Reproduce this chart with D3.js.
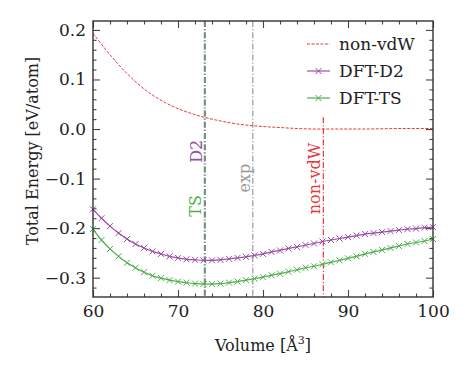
<!DOCTYPE html>
<html>
<head>
<meta charset="utf-8">
<script src="https://cdn.jsdelivr.net/npm/d3@7"></script>
<style>
  body { margin: 0; background: #fff; }
  .axis line { stroke: #444; stroke-width: 1.1; }
  .axis path.domain { display: none; }
</style>
</head>
<body>
<svg id="chart"></svg>
<script>
'use strict';

var volumes = [60, 61, 62, 63, 64, 65, 66, 67, 68, 69, 70, 71, 72, 73, 74, 75, 76, 77, 78, 79, 80,
  81, 82, 83, 84, 85, 86, 87, 88, 89, 90, 91, 92, 93, 94, 95, 96, 97, 98, 99, 100];

var d2Energy = [-0.162, -0.180, -0.196, -0.210, -0.222, -0.232, -0.240, -0.247, -0.252, -0.257, -0.260,
  -0.263, -0.264, -0.265, -0.265, -0.264, -0.262, -0.260, -0.258, -0.255, -0.252,
  -0.248, -0.245, -0.241, -0.238, -0.234, -0.231, -0.227, -0.224, -0.221, -0.218,
  -0.215, -0.212, -0.210, -0.208, -0.206, -0.204, -0.202, -0.201, -0.199, -0.198];

var tsEnergy = [-0.202, -0.224, -0.242, -0.257, -0.270, -0.280, -0.289, -0.296, -0.301, -0.305, -0.308,
  -0.310, -0.312, -0.313, -0.313, -0.312, -0.310, -0.308, -0.305, -0.302, -0.299,
  -0.295, -0.292, -0.288, -0.284, -0.280, -0.277, -0.273, -0.269, -0.265, -0.261,
  -0.257, -0.252, -0.248, -0.244, -0.240, -0.236, -0.232, -0.229, -0.226, -0.222];

var nonVdwVolumes = [60, 62, 64, 66, 68, 70, 72, 74, 76, 78, 80, 82, 84, 86, 88, 90, 92, 94, 96, 98, 100];
var nonVdwEnergy = [0.193, 0.150, 0.112, 0.081, 0.058, 0.041, 0.029, 0.020, 0.013, 0.008, 0.005,
  0.003, 0.001, 0.000, 0.000, 0.000, 0.000, 0.0005, 0.001, 0.001, 0.001];

// equilibrium volumes marked with vertical lines
var markerNames = ['D2', 'TS', 'exp', 'non-vdW'];
var markerVolumes = [73.2, 73.1, 78.8, 87.1];
var markerTops = [0.218, 0.218, 0.218, 0.024];
var markerColors = ['#984ea3', '#4daf4a', '#999999', '#e8383d'];
var markerLabelY = [-0.045, -0.155, -0.099, -0.1];

var xTicks = [60, 70, 80, 90, 100];
var yTicks = [-0.3, -0.2, -0.1, 0.0, 0.1, 0.2];

var legendNames = ['non-vdW', 'DFT-D2', 'DFT-TS'];
var legendColors = ['#e8383d', '#984ea3', '#4daf4a'];

var FONT = '"DejaVu Serif", serif',
  SIZE = { width: 469, height: 375 },
  MARGIN = { left: 93, top: 21, right: 36, bottom: 78 };

draw();


function draw() {
  var W = SIZE.width - MARGIN.left - MARGIN.right,
    H = SIZE.height - MARGIN.top - MARGIN.bottom;

  var svg = d3.select('#chart')
    .attr('width', SIZE.width)
    .attr('height', SIZE.height);

  var xScale = d3.scaleLinear().domain([60, 100]).range([0, W]);
  var yScale = d3.scaleLinear().domain([-0.339, 0.218]).range([H, 0]);

  var g = svg.append('g')
    .attr('transform', 'translate(' + MARGIN.left + ',' + MARGIN.top + ')');

  var xMinor = d3.range(60, 101, 2).filter(function(v) { return v % 10 !== 0; });
  var yMinor = d3.range(-0.32, 0.22, 0.02).filter(function(v) {
    return Math.abs(Math.round(v * 10) - v * 10) > 1e-6;
  });

  var fmtY = function(t) { return d3.format('.1f')(t).replace('-', '\u2212'); };

  // axes, ticks pointing inwards on all sides
  g.append('g').attr('class', 'x axis')
    .attr('transform', 'translate(0,' + H + ')')
    .call(d3.axisBottom(xScale).tickValues(xTicks).tickSize(-7).tickPadding(8));
  g.append('g').attr('class', 'x axis')
    .attr('transform', 'translate(0,' + H + ')')
    .call(d3.axisBottom(xScale).tickValues(xMinor).tickSize(-3.5).tickFormat(''));
  g.append('g').attr('class', 'x axis')
    .call(d3.axisTop(xScale).tickValues(xTicks).tickSize(-7).tickFormat(''));
  g.append('g').attr('class', 'x axis')
    .call(d3.axisTop(xScale).tickValues(xMinor).tickSize(-3.5).tickFormat(''));

  g.append('g').attr('class', 'y axis')
    .call(d3.axisLeft(yScale).tickValues(yTicks).tickSize(-7).tickPadding(7).tickFormat(fmtY));
  g.append('g').attr('class', 'y axis')
    .call(d3.axisLeft(yScale).tickValues(yMinor).tickSize(-3.5).tickFormat(''));
  g.append('g').attr('class', 'y axis')
    .attr('transform', 'translate(' + W + ',0)')
    .call(d3.axisRight(yScale).tickValues(yTicks).tickSize(-7).tickFormat(''));
  g.append('g').attr('class', 'y axis')
    .attr('transform', 'translate(' + W + ',0)')
    .call(d3.axisRight(yScale).tickValues(yMinor).tickSize(-3.5).tickFormat(''));

  g.selectAll('.axis')
    .attr('font-family', FONT)
    .attr('font-size', 17);
  g.selectAll('.axis text').attr('fill', '#222');

  // vertical lines for the equilibrium volumes
  markerNames.forEach(function(name, i) {
    g.append('line')
      .attr('x1', xScale(markerVolumes[i]))
      .attr('x2', xScale(markerVolumes[i]))
      .attr('y1', yScale(markerTops[i]))
      .attr('y2', H)
      .attr('stroke', markerColors[i])
      .attr('stroke-width', 1.2)
      .attr('stroke-dasharray', '6,2,1.2,2');

    var lx = xScale(markerVolumes[i]) - 3,
      ly = yScale(markerLabelY[i]);
    g.append('text')
      .attr('transform', 'translate(' + lx + ',' + ly + ') rotate(-90)')
      .attr('text-anchor', 'middle')
      .attr('fill', markerColors[i])
      .attr('font-family', FONT)
      .attr('font-size', 16)
      .text(name);
  });

  var line = d3.line()
    .x(function(d) { return xScale(d[0]); })
    .y(function(d) { return yScale(d[1]); })
    .curve(d3.curveCatmullRom);

  var redData = nonVdwVolumes.map(function(v, i) { return [v, nonVdwEnergy[i]]; });
  var d2Data = volumes.map(function(v, i) { return [v, d2Energy[i]]; });
  var tsData = volumes.map(function(v, i) { return [v, tsEnergy[i]]; });

  g.append('path')
    .datum(redData)
    .attr('d', line)
    .attr('fill', 'none')
    .attr('stroke', legendColors[0])
    .attr('stroke-width', 1)
    .attr('stroke-dasharray', '3,1.5');

  [d2Data, tsData].forEach(function(data, k) {
    var color = legendColors[k + 1];
    g.append('path')
      .datum(data)
      .attr('d', line)
      .attr('fill', 'none')
      .attr('stroke', color)
      .attr('stroke-width', 1.2);

    g.selectAll(null)
      .data(data)
      .enter().append('path')
      .attr('transform', function(d) {
        return 'translate(' + xScale(d[0]) + ',' + yScale(d[1]) + ')';
      })
      .attr('d', 'M-3,-3L3,3M-3,3L3,-3')
      .attr('stroke', color)
      .attr('stroke-width', 1);
  });

  // frame
  g.append('rect')
    .attr('width', W)
    .attr('height', H)
    .attr('fill', 'none')
    .attr('stroke', '#333')
    .attr('stroke-width', 1.4);

  // legend
  var legend = svg.append('g').attr('transform', 'translate(307,44)');
  legendNames.forEach(function(name, i) {
    var row = legend.append('g').attr('transform', 'translate(0,' + (i * 27) + ')');
    row.append('line')
      .attr('x1', 0).attr('x2', 23)
      .attr('stroke', legendColors[i])
      .attr('stroke-width', i === 0 ? 1 : 1.2)
      .attr('stroke-dasharray', i === 0 ? '3,1.5' : null);
    if (i > 0) {
      row.append('path')
        .attr('transform', 'translate(11.5,0)')
        .attr('d', 'M-3,-3L3,3M-3,3L3,-3')
        .attr('stroke', legendColors[i]);
    }
    row.append('text')
      .attr('x', 32)
      .attr('dy', '0.35em')
      .attr('fill', '#222')
      .attr('font-family', FONT)
      .attr('font-size', 17)
      .text(name);
  });

  // axis titles
  svg.append('text')
    .attr('transform', 'translate(38,' + (MARGIN.top + H / 2 - 8) + ') rotate(-90)')
    .attr('text-anchor', 'middle')
    .attr('fill', '#222')
    .attr('font-family', FONT)
    .attr('font-size', 16)
    .text('Total Energy [eV/atom]');

  var xl = svg.append('text')
    .attr('x', MARGIN.left + W / 2)
    .attr('y', 351)
    .attr('text-anchor', 'middle')
    .attr('fill', '#222')
    .attr('font-family', FONT)
    .attr('font-size', 16);
  xl.append('tspan').text('Volume [\u00c5');
  xl.append('tspan').attr('dy', -7).attr('font-size', 11).text('3');
  xl.append('tspan').attr('dy', 7).text(']');
}
</script>
</body>
</html>
